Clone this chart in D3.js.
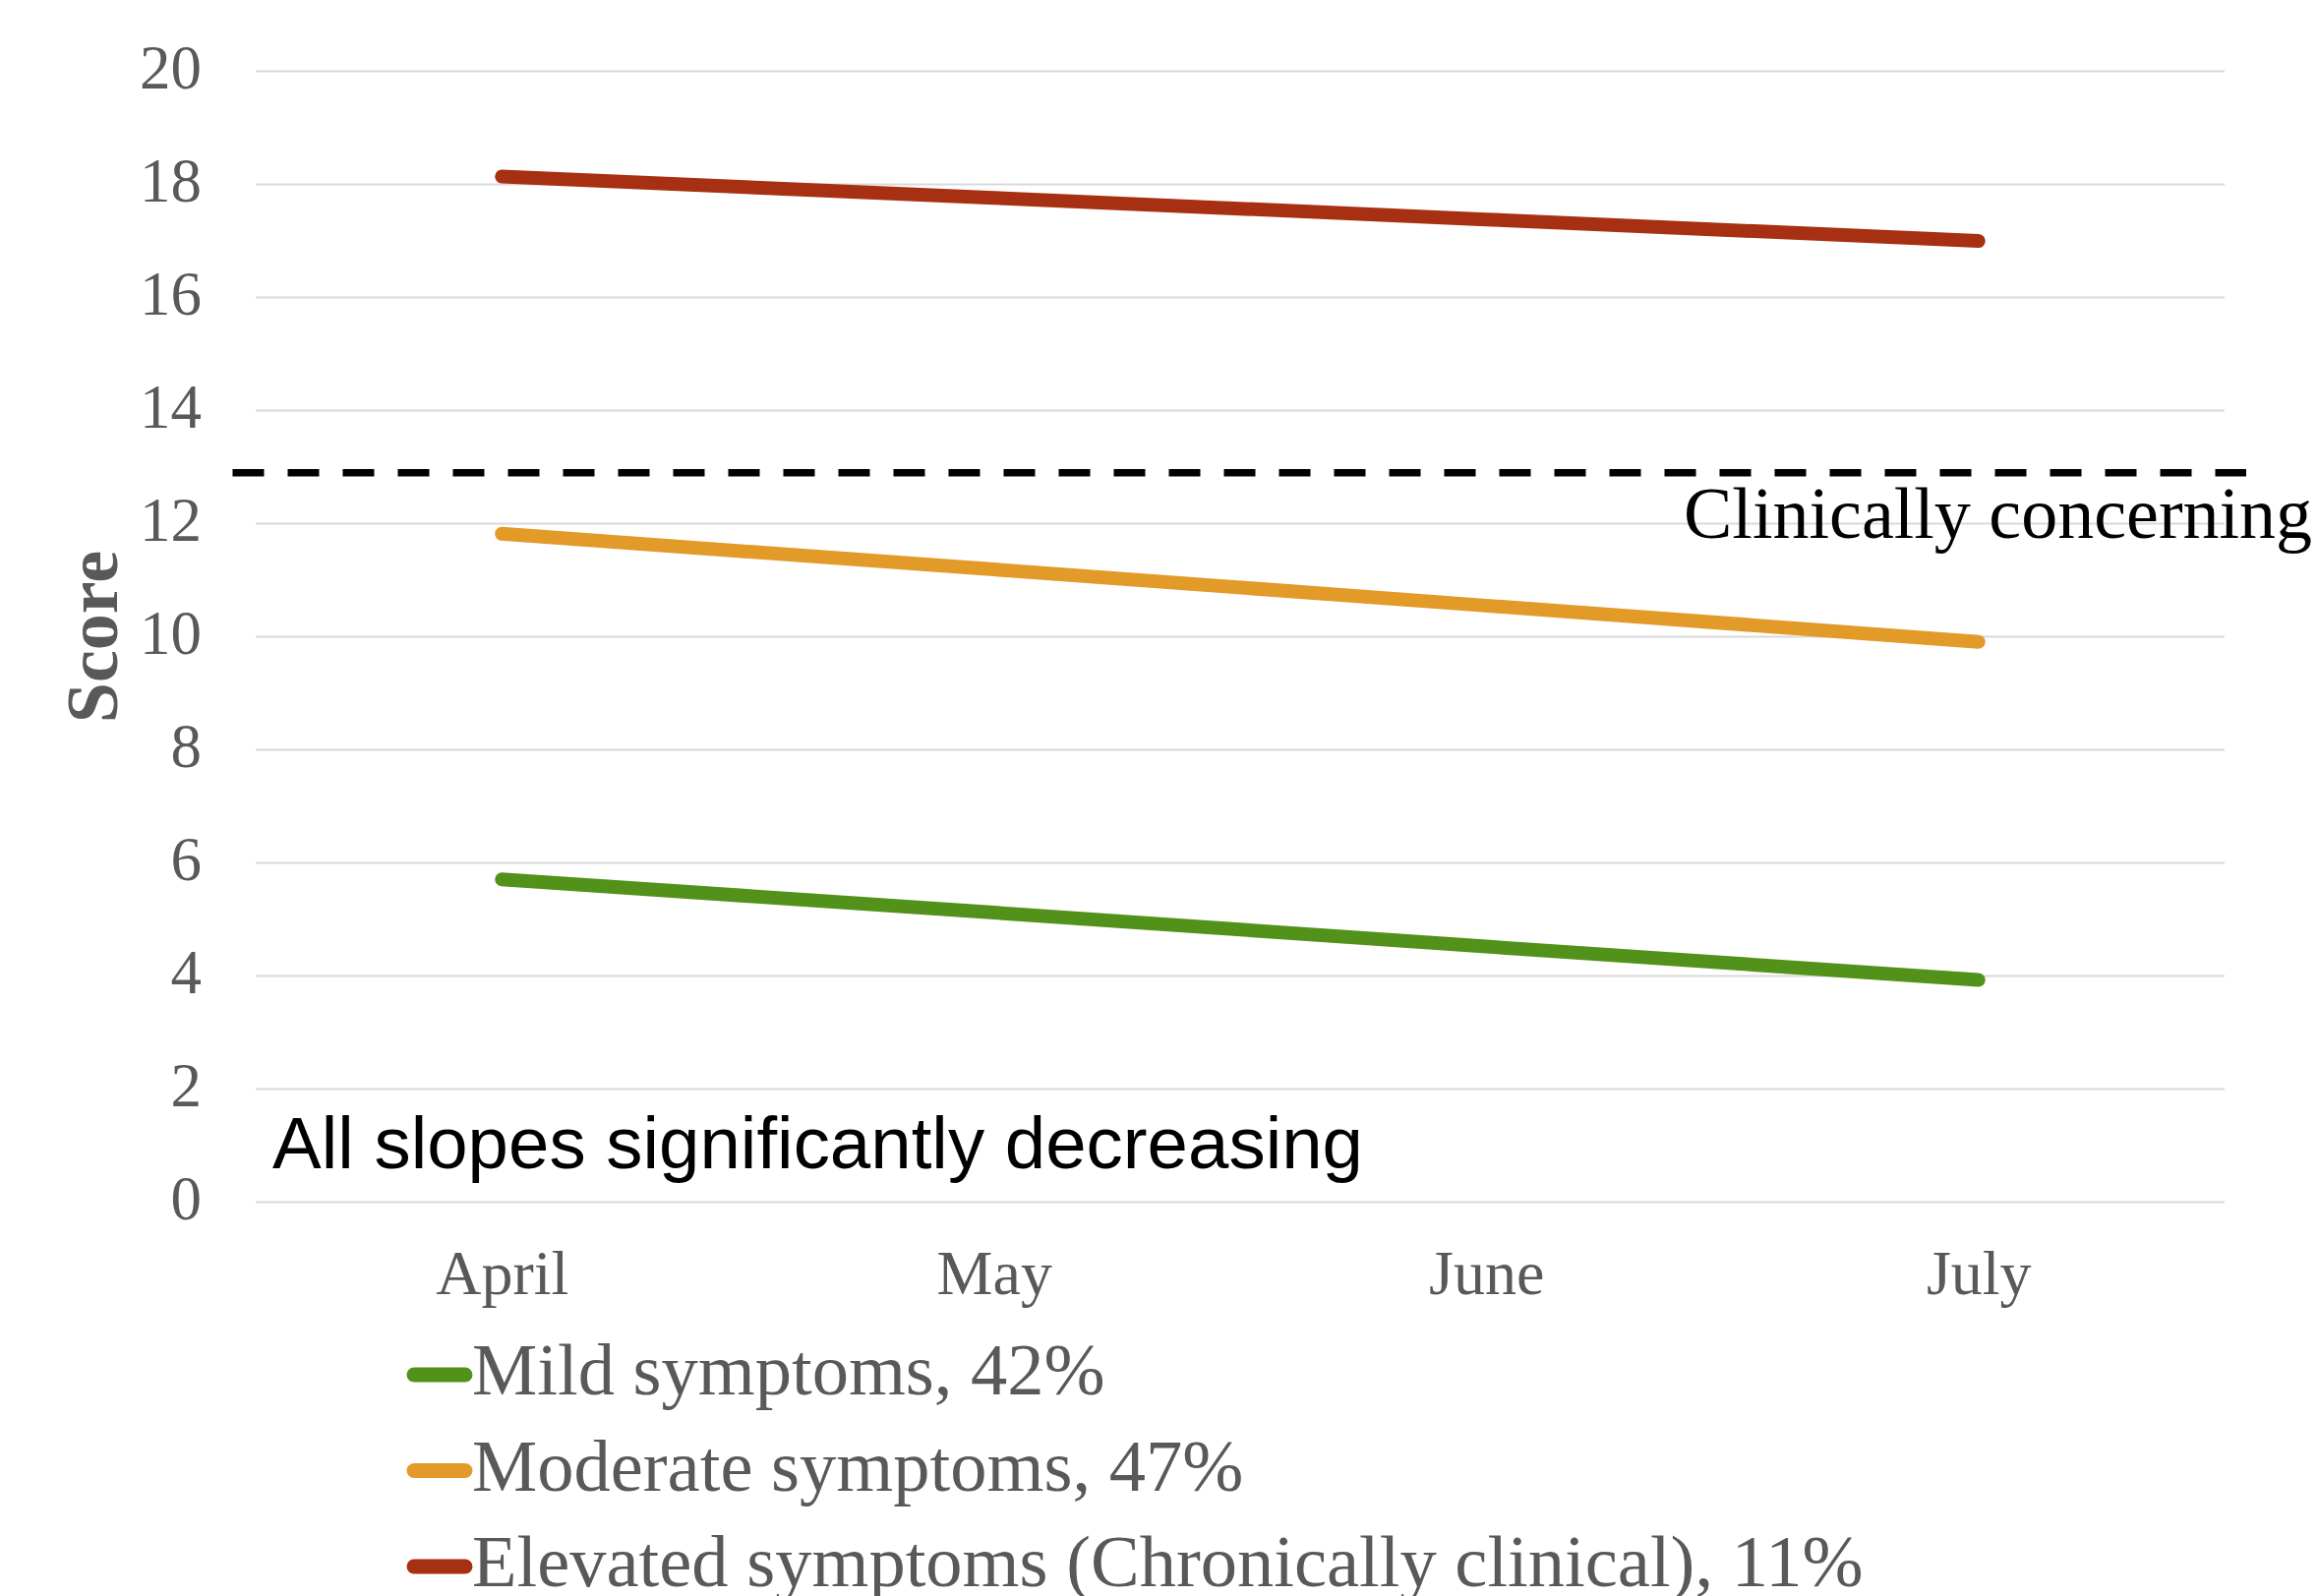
<!DOCTYPE html>
<html>
<head>
<meta charset="utf-8">
<script src="https://cdn.jsdelivr.net/npm/d3@7"></script>
<style>
  html, body { margin: 0; padding: 0; background: #ffffff; }
  svg { display: block; }
</style>
</head>
<body>
<svg id="chart" width="2357" height="1623"></svg>
<script>
// ---- data ----
const months = ["April", "May", "June", "July"];
const mildValues = [5.71, 5.12, 4.52, 3.93];
const moderateValues = [11.82, 11.19, 10.55, 9.91];
const elevatedValues = [18.14, 17.76, 17.38, 17.0];
const seriesNames = ["Mild symptoms, 42%", "Moderate symptoms, 47%", "Elevated symptoms (Chronically clinical), 11%"];
const seriesColors = ["#52921A", "#E29A29", "#A83012"];
const yTicks = [0, 2, 4, 6, 8, 10, 12, 14, 16, 18, 20];
const clinicalThreshold = 12.9;
const thresholdLabel = "Clinically concerning";
const noteLabel = "All slopes significantly decreasing";
const yAxisTitle = "Score";

const series = [mildValues, moderateValues, elevatedValues].map((vals, i) => ({
  name: seriesNames[i], color: seriesColors[i],
  points: months.map((m, j) => ({ month: m, value: vals[j] }))
}));

// ---- layout ----
const svg = d3.select("#chart");
const plot = { left: 260, right: 2262, top: 72.5, bottom: 1222.5 };
const serif = "'Liberation Serif', 'Times New Roman', serif";
const sans = "'Liberation Sans', Arial, sans-serif";
const gray = "#595959";

const x = d3.scalePoint().domain(months).range([plot.left, plot.right]).padding(0.5);
const y = d3.scaleLinear().domain([0, 20]).range([plot.bottom, plot.top]);

// gridlines
svg.append("g").selectAll("line").data(yTicks).join("line")
  .attr("x1", plot.left).attr("x2", plot.right)
  .attr("y1", d => y(d)).attr("y2", d => y(d))
  .attr("stroke", "#D9D9D9").attr("stroke-width", 2);

// y axis labels
const yAxis = d3.axisLeft(y).tickValues(yTicks).tickSize(0).tickPadding(0);
const gy = svg.append("g").attr("transform", "translate(205,0)").call(yAxis);
gy.select(".domain").remove();
gy.selectAll("text")
  .attr("font-family", serif).attr("font-size", 63).attr("fill", gray)
  .attr("dy", null).attr("y", 17).attr("x", 0).attr("text-anchor", "end");

// x axis labels
const xAxis = d3.axisBottom(x).tickSize(0).tickPadding(0);
const gx = svg.append("g").attr("transform", `translate(0,${plot.bottom})`).call(xAxis);
gx.select(".domain").remove();
gx.selectAll("text")
  .attr("font-family", serif).attr("font-size", 64).attr("fill", gray)
  .attr("dy", null).attr("y", 93);

// y title
svg.append("text")
  .attr("transform", `translate(119,${(plot.top + plot.bottom) / 2}) rotate(-90)`)
  .attr("text-anchor", "middle")
  .attr("font-family", serif).attr("font-weight", "bold").attr("font-size", 74)
  .attr("fill", gray).text(yAxisTitle);

// threshold line
svg.append("line")
  .attr("x1", plot.left - 23.5).attr("x2", plot.right + 22)
  .attr("y1", y(clinicalThreshold)).attr("y2", y(clinicalThreshold))
  .attr("stroke", "#000").attr("stroke-width", 7.5)
  .attr("stroke-dasharray", "32,24");

svg.append("text")
  .attr("x", 1712).attr("y", y(clinicalThreshold) + 66)
  .attr("font-family", serif).attr("font-size", 74).attr("fill", "#000")
  .text(thresholdLabel);

// series lines
const line = d3.line().x(d => x(d.month)).y(d => y(d.value));
svg.append("g").selectAll("path").data(series).join("path")
  .attr("d", d => line(d.points))
  .attr("fill", "none").attr("stroke", d => d.color)
  .attr("stroke-width", 14).attr("stroke-linecap", "round").attr("stroke-linejoin", "round");

// note
svg.append("text")
  .attr("x", 277).attr("y", 1188)
  .attr("font-family", sans).attr("font-size", 75).attr("fill", "#000")
  .attr("textLength", 1109).attr("lengthAdjust", "spacingAndGlyphs")
  .text(noteLabel);

// legend
const legend = svg.append("g").selectAll("g").data(series).join("g")
  .attr("transform", (d, i) => `translate(0,${1418 + i * 97.5})`);
legend.append("line")
  .attr("x1", 421).attr("x2", 473).attr("y1", -20).attr("y2", -20)
  .attr("stroke", d => d.color).attr("stroke-width", 15).attr("stroke-linecap", "round");
legend.append("text")
  .attr("x", 480).attr("y", 0)
  .attr("font-family", serif).attr("font-size", 74.5).attr("fill", gray)
  .text(d => d.name);
</script>
</body>
</html>
